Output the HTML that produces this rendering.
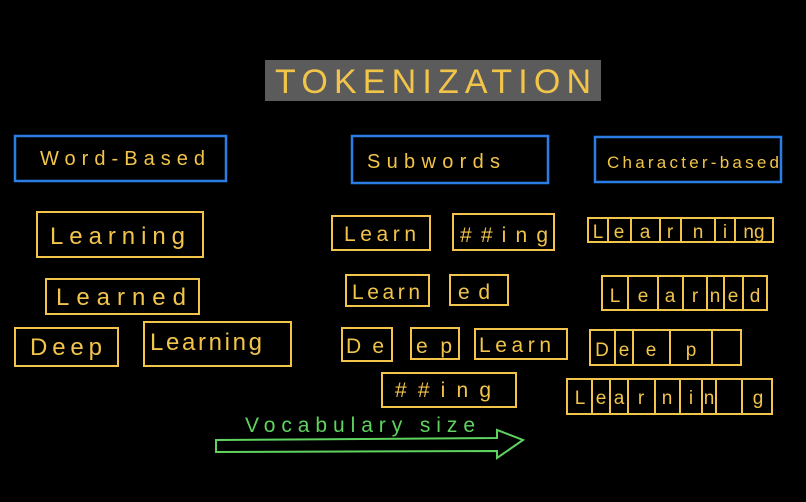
<!DOCTYPE html>
<html><head><meta charset="utf-8"><style>
html,body{margin:0;padding:0;background:#000;}
svg{display:block}
text{font-family:"Liberation Sans",sans-serif;}
</style></head><body>
<svg width="806" height="502" viewBox="0 0 806 502" xmlns="http://www.w3.org/2000/svg">
<rect width="806" height="502" fill="#000"/>
<rect x="265" y="60" width="336" height="41" fill="#5b5b5b"/>
<text x="435" y="93" font-size="34" fill="#f2c44a" text-anchor="middle" letter-spacing="4" textLength="320">TOKENIZATION</text>

<g fill="none" stroke="#2b7de3" stroke-width="2.5">
<rect x="15" y="136" width="211" height="45"/>
<rect x="352" y="136" width="196" height="47"/>
<rect x="595" y="137" width="186" height="45"/>
</g>
<g fill="#f2c44a" font-size="20">
<text x="40" y="165" textLength="165">Word-Based</text>
<text x="367" y="168" textLength="133">Subwords</text>
<text x="607" y="168" font-size="17" textLength="172">Character-based</text>
</g>

<g fill="none" stroke="#f2c44a" stroke-width="2">
<rect x="37" y="212" width="166" height="45"/>
<rect x="46" y="279" width="153" height="35"/>
<rect x="15" y="328" width="103" height="38"/>
<rect x="144" y="322" width="147" height="44"/>
<rect x="332" y="216" width="98" height="34"/>
<rect x="453" y="214" width="101" height="36"/>
<rect x="346" y="275" width="83" height="31"/>
<rect x="450" y="275" width="58" height="30"/>
<rect x="342" y="328" width="50" height="33"/>
<rect x="411" y="328" width="48" height="31"/>
<rect x="475" y="329" width="92" height="30"/>
<rect x="382" y="373" width="134" height="34"/>
<rect x="588" y="218" width="185" height="24"/>
<rect x="602" y="276" width="165" height="34"/>
<rect x="590" y="330" width="151" height="35"/>
<rect x="567" y="379" width="205" height="35"/>
</g>
<g stroke="#f2c44a" stroke-width="2">
<line x1="608" y1="218" x2="608" y2="242"/><line x1="631" y1="218" x2="631" y2="242"/><line x1="660" y1="218" x2="660" y2="242"/><line x1="681" y1="218" x2="681" y2="242"/><line x1="715" y1="218" x2="715" y2="242"/><line x1="735" y1="218" x2="735" y2="242"/>
<line x1="628" y1="276" x2="628" y2="310"/><line x1="658" y1="276" x2="658" y2="310"/><line x1="683" y1="276" x2="683" y2="310"/><line x1="707" y1="276" x2="707" y2="310"/><line x1="724" y1="276" x2="724" y2="310"/><line x1="743" y1="276" x2="743" y2="310"/>
<line x1="615" y1="330" x2="615" y2="365"/><line x1="633" y1="330" x2="633" y2="365"/><line x1="670" y1="330" x2="670" y2="365"/><line x1="712" y1="330" x2="712" y2="365"/>
<line x1="592" y1="379" x2="592" y2="414"/><line x1="610" y1="379" x2="610" y2="414"/><line x1="628" y1="379" x2="628" y2="414"/><line x1="655" y1="379" x2="655" y2="414"/><line x1="680" y1="379" x2="680" y2="414"/><line x1="702" y1="379" x2="702" y2="414"/><line x1="716" y1="379" x2="716" y2="414"/><line x1="742" y1="379" x2="742" y2="414"/>
</g>
<g fill="#f2c44a" font-size="24">
<text x="50" y="244" textLength="135">Learning</text>
<text x="56" y="305" textLength="130">Learned</text>
<text x="30" y="355" textLength="72">Deep</text>
<text x="150" y="350" textLength="112">Learning</text>
<text x="344" y="241" font-size="21" textLength="72">Learn</text>
<text x="460" y="242" font-size="21" textLength="88">##ing</text>
<text x="352" y="299" font-size="21" textLength="68">Learn</text>
<text x="458" y="299" font-size="21" textLength="32">ed</text>
<text x="346" y="353" font-size="21" textLength="38">De</text>
<text x="416" y="353" font-size="21" textLength="36">ep</text>
<text x="479" y="352" font-size="21" textLength="72">Learn</text>
<text x="395" y="397" font-size="21" textLength="96">##ing</text>
</g>
<g fill="#f2c44a" font-size="19" text-anchor="middle">
<text x="598" y="238">L</text><text x="619" y="238">e</text><text x="645" y="238">a</text><text x="670" y="238">r</text><text x="698" y="238">n</text><text x="725" y="238">i</text><text x="754" y="238">ng</text>
<text x="615" y="302">L</text><text x="643" y="302">e</text><text x="670" y="302">a</text><text x="695" y="302">r</text><text x="715" y="302">n</text><text x="733" y="302">e</text><text x="755" y="302">d</text>
<text x="602" y="356">D</text><text x="624" y="356">e</text><text x="651" y="356">e</text><text x="691" y="356">p</text>
<text x="580" y="404">L</text><text x="601" y="404">e</text><text x="619" y="404">a</text><text x="641" y="404">r</text><text x="667" y="404">n</text><text x="691" y="404">i</text><text x="709" y="404">n</text><text x="758" y="404">g</text>
</g>

<text x="245" y="432" fill="#5fd35f" font-size="21" textLength="230">Vocabulary size</text>
<path d="M216 440 L497 438 L497 430 L523 440 L497 458 L497 451 L216 452 Z" fill="none" stroke="#5fd35f" stroke-width="2"/>
</svg>
</body></html>
